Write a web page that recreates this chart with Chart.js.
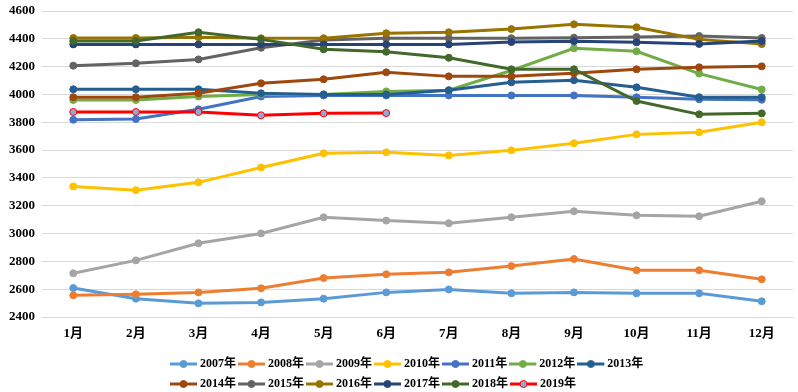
<!DOCTYPE html>
<html>
<head>
<meta charset="utf-8">
<script src="https://cdn.jsdelivr.net/npm/chart.js@4"></script>
<style>
  body { margin: 0; background: #fff; }
  #wrap { width: 798px; height: 392px; }
</style>
</head>
<body>
<div id="wrap"><canvas id="priceChart"></canvas></div>
<script>
// 月份与年份
const months = ['1月', '2月', '3月', '4月', '5月', '6月', '7月', '8月', '9月', '10月', '11月', '12月'];
const years = ['2007年', '2008年', '2009年', '2010年', '2011年', '2012年', '2013年',
               '2014年', '2015年', '2016年', '2017年', '2018年', '2019年'];

// 各年数据
const y2007 = [2608, 2532, 2498, 2505, 2532, 2577, 2598, 2570, 2577, 2570, 2570, 2513];
const y2008 = [2556, 2563, 2577, 2606, 2680, 2707, 2721, 2766, 2817, 2736, 2736, 2671];
const y2009 = [2714, 2807, 2930, 3001, 3117, 3093, 3074, 3117, 3160, 3131, 3124, 3232];
const y2010 = [3339, 3312, 3368, 3475, 3577, 3584, 3562, 3598, 3649, 3713, 3728, 3800];
const y2011 = [3818, 3823, 3893, 3985, 3993, 3993, 3993, 3993, 3993, 3980, 3965, 3962];
const y2012 = [3960, 3960, 3985, 4000, 4000, 4022, 4030, 4172, 4332, 4310, 4150, 4036];
const y2013 = [4037, 4037, 4037, 4008, 4000, 4000, 4030, 4087, 4102, 4051, 3980, 3980];
const y2014 = [3980, 3980, 4008, 4080, 4109, 4159, 4130, 4130, 4152, 4181, 4195, 4202];
const y2015 = [4207, 4224, 4252, 4336, 4392, 4404, 4404, 4404, 4408, 4413, 4420, 4406];
const y2016 = [4406, 4406, 4412, 4404, 4404, 4440, 4447, 4470, 4504, 4483, 4396, 4362];
const y2017 = [4360, 4360, 4360, 4360, 4360, 4360, 4360, 4377, 4382, 4375, 4363, 4384];
const y2018 = [4384, 4384, 4447, 4396, 4325, 4307, 4264, 4181, 4181, 3953, 3857, 3864];
const y2019 = [3874, 3874, 3874, 3850, 3864, 3866, null, null, null, null, null, null];

const yTicks = { min: 2400, max: 4600, step: 200 };

const seriesData = [y2007, y2008, y2009, y2010, y2011, y2012, y2013,
                    y2014, y2015, y2016, y2017, y2018, y2019];
const colors = ['#5B9BD5', '#ED7D31', '#A5A5A5', '#FFC000', '#4472C4', '#70AD47', '#255E91',
                '#9E480E', '#636363', '#997300', '#264478', '#43682B', '#FF0000'];
const pointFills = colors.slice(0, 12).concat(['#8EA9DB']);

const FONT = "'Liberation Serif', 'Noto Sans CJK SC', serif";

// 图例图标：线 + 圆点
function legendIcon(lineColor, fill, border) {
    const c = document.createElement('canvas');
    c.width = 30; c.height = 10;
    const g = c.getContext('2d');
    g.strokeStyle = lineColor;
    g.lineWidth = 3;
    g.beginPath(); g.moveTo(0, 5); g.lineTo(27, 5); g.stroke();
    g.fillStyle = fill;
    g.strokeStyle = border;
    g.lineWidth = 1;
    g.beginPath(); g.arc(13.5, 5, 3.5, 0, Math.PI * 2); g.fill(); g.stroke();
    return c;
}
const icons = colors.map((c, i) => legendIcon(c, pointFills[i], c));

const datasets = seriesData.map((d, i) => ({
    label: years[i],
    data: d,
    borderColor: colors[i],
    backgroundColor: pointFills[i],
    pointBackgroundColor: pointFills[i],
    pointBorderColor: colors[i],
    pointBorderWidth: 1,
    pointRadius: 3.5,
    borderWidth: 3,
    tension: 0,
    spanGaps: false,
    order: seriesData.length - i // 后面的年份画在上面
}));

// 图例两行左对齐（类似Excel）
const legendRows = {
    id: 'legendRows',
    afterLayout(chart) {
        const lg = chart.legend;
        lg.left = 168;
        lg.right = 690;
        lg.top = 350;
    }
};

document.addEventListener('DOMContentLoaded', () => {
    const ctx = document.getElementById('priceChart').getContext('2d');
    new Chart(ctx, {
        type: 'line',
        data: { labels: months, datasets: datasets },
        plugins: [legendRows],
        options: {
            responsive: true,
            maintainAspectRatio: false,
            animation: false,
            layout: { padding: { top: 11, left: 0, right: 0, bottom: 0 } },
            plugins: {
                tooltip: { enabled: false },
                legend: {
                    position: 'bottom',
                    align: 'start',
                    labels: {
                        usePointStyle: true,
                        pointStyleWidth: 18,
                        padding: 8,
                        color: '#000',
                        font: { family: FONT, size: 12, weight: 'bold' },
                        sort: (a, b) => a.datasetIndex - b.datasetIndex,
                        generateLabels: (chart) => {
                            const items = Chart.defaults.plugins.legend.labels.generateLabels(chart);
                            items.forEach(it => { it.pointStyle = icons[it.datasetIndex]; });
                            return items;
                        }
                    }
                }
            },
            scales: {
                x: {
                    offset: true,
                    grid: { display: false },
                    border: { display: true, color: '#D9D9D9', width: 1 },
                    ticks: {
                        color: '#000',
                        padding: 1,
                        maxRotation: 0,
                        font: { family: FONT, size: 13, weight: 'bold' }
                    },
                    afterFit: (scale) => { scale.height = 25; }
                },
                y: {
                    min: yTicks.min,
                    max: yTicks.max,
                    grid: { color: '#D9D9D9', drawTicks: false },
                    border: { display: false },
                    ticks: {
                        stepSize: yTicks.step,
                        color: '#000',
                        padding: 7,
                        font: { family: FONT, size: 13, weight: 'bold' },
                        callback: (v) => String(v)
                    },
                    afterFit: (scale) => {
                        scale.width = 42;
                        scale.paddingTop = 0;
                        scale.paddingBottom = 0;
                    }
                }
            }
        }
    });
});
</script>
</body>
</html>
